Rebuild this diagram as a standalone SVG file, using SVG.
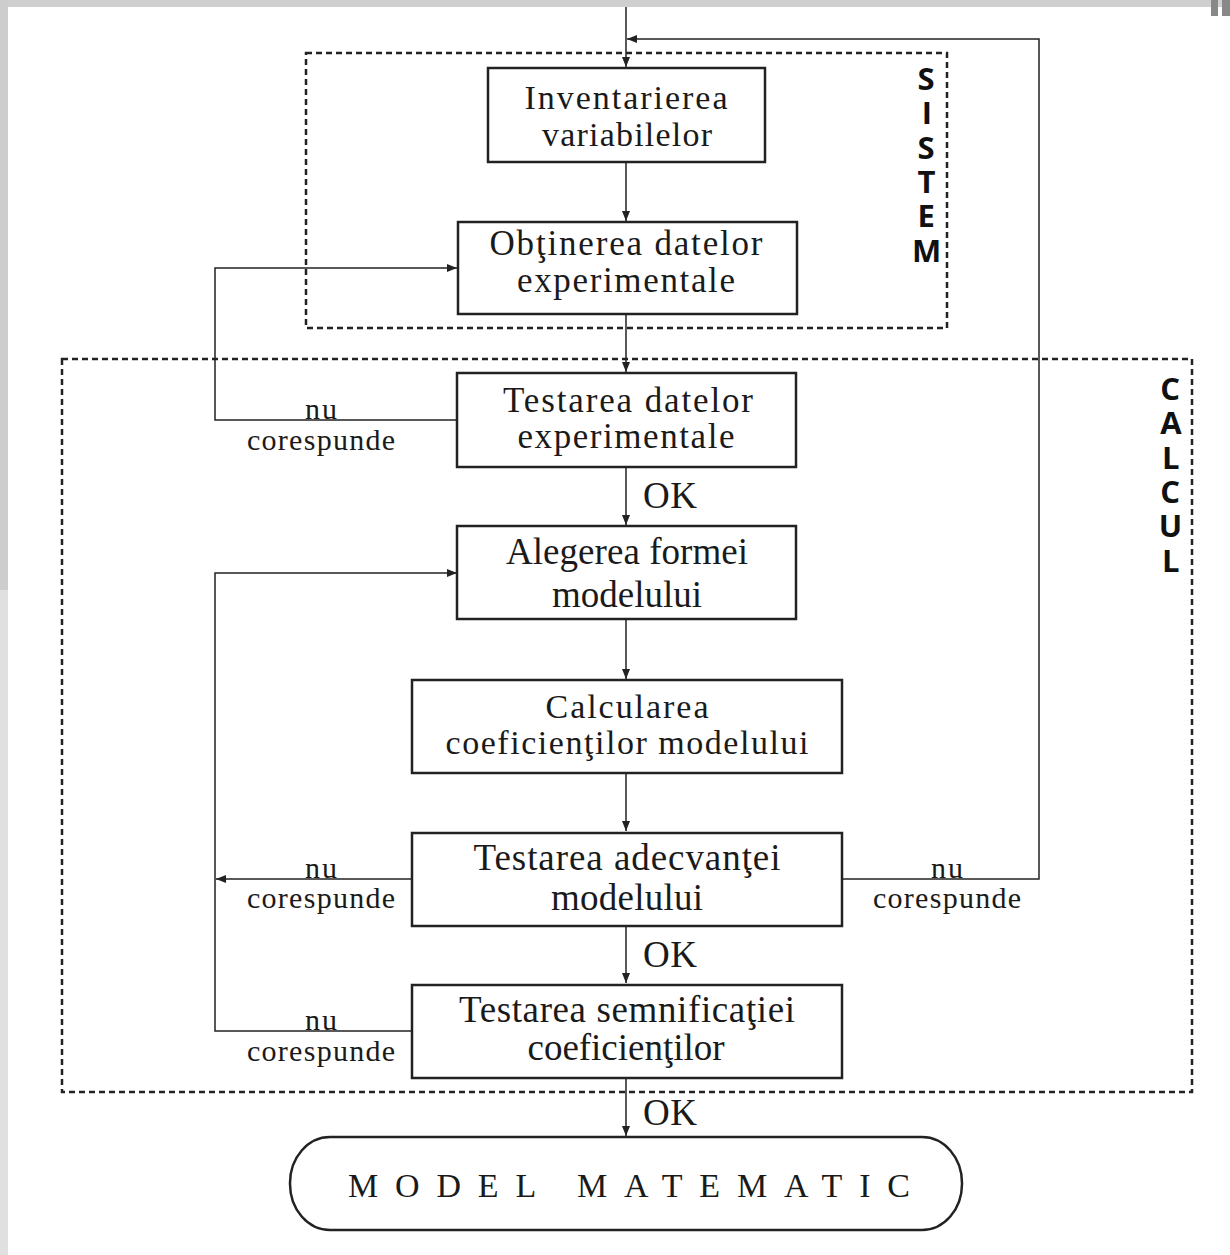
<svg xmlns="http://www.w3.org/2000/svg" width="1230" height="1255" viewBox="0 0 1230 1255">
<style>
.box{fill:#fff;stroke:#222;stroke-width:2.5}
.dash{fill:none;stroke:#222;stroke-width:2.5;stroke-dasharray:6 4}
.ln{fill:none;stroke:#222;stroke-width:1.5}
.t{font-family:"Liberation Serif","Times New Roman",serif;font-size:37px;fill:#1a1a1a;text-anchor:middle}
.s{font-family:"Liberation Serif","Times New Roman",serif;font-size:30px;fill:#1a1a1a;text-anchor:middle}
.v{font-family:"Open Sans","Liberation Sans",sans-serif;font-weight:bold;font-size:31px;fill:#111;writing-mode:vertical-rl;text-orientation:upright;letter-spacing:-7.7px}
</style>
<defs>
<marker id="ah" markerUnits="userSpaceOnUse" markerWidth="12" markerHeight="10" refX="10" refY="4" orient="auto">
<path d="M0,0 L10,4 L0,8 z" fill="#222"/>
</marker>
</defs>
<rect width="1230" height="1255" fill="#fff"/>
<g id="background">
<rect x="0" y="0" width="1230" height="7" fill="#cfcfcf"/>
<rect x="0" y="0" width="8" height="590" fill="#cdcdcd"/>
<rect x="0" y="590" width="8" height="665" fill="#e0e0e0"/>
<rect x="1211" y="0" width="7" height="16" fill="#888"/>
<rect x="1222" y="0" width="8" height="16" fill="#888"/>
</g>
<g id="group-sistem">
<rect class="dash" x="306" y="53" width="641" height="275"/>
<text class="v" x="926" y="57">SISTEM</text>
</g>
<g id="group-calcul">
<rect class="dash" x="62" y="359" width="1130" height="733"/>
<text class="v" x="1170" y="367">CALCUL</text>
</g>
<g id="connectors">
<path class="ln" d="M626,7 V67" marker-end="url(#ah)"/>
<path class="ln" d="M626,162 V221" marker-end="url(#ah)"/>
<path class="ln" d="M626,314 V372" marker-end="url(#ah)"/>
<path class="ln" d="M626,467 V525" marker-end="url(#ah)"/>
<path class="ln" d="M626,619 V679" marker-end="url(#ah)"/>
<path class="ln" d="M626,773 V831" marker-end="url(#ah)"/>
<path class="ln" d="M626,926 V983" marker-end="url(#ah)"/>
<path class="ln" d="M626,1078 V1136" marker-end="url(#ah)"/>
<path class="ln" d="M457,420 H215 V268 H457" marker-end="url(#ah)"/>
<path class="ln" d="M412,879 H216" marker-end="url(#ah)"/>
<path class="ln" d="M412,1031 H215 V573 H457" marker-end="url(#ah)"/>
<path class="ln" d="M842,879 H1039 V39 H627" marker-end="url(#ah)"/>
<text class="t" x="670" y="508" textLength="54">OK</text>
<text class="t" x="670" y="967" textLength="54">OK</text>
<text class="t" x="670" y="1125" textLength="54">OK</text>
<text class="s" x="321" y="419" textLength="32">nu</text>
<text class="s" x="321" y="450" textLength="148">corespunde</text>
<text class="s" x="321" y="878" textLength="32">nu</text>
<text class="s" x="321" y="908" textLength="148">corespunde</text>
<text class="s" x="321" y="1030" textLength="32">nu</text>
<text class="s" x="321" y="1061" textLength="148">corespunde</text>
<text class="s" x="947" y="878" textLength="32">nu</text>
<text class="s" x="947" y="908" textLength="148">corespunde</text>
</g>
<g id="n1">
<rect class="box" x="488" y="68" width="277" height="94"/>
<text class="t" x="626" y="109" textLength="203" style="font-size:34px">Inventarierea</text>
<text class="t" x="627" y="146" textLength="170" style="font-size:34px">variabilelor</text>
</g>
<g id="n2">
<rect class="box" x="458" y="222" width="339" height="92"/>
<text class="t" x="626" y="255" textLength="273" style="font-size:35px">Obţinerea datelor</text>
<text class="t" x="626" y="292" textLength="218" style="font-size:35px">experimentale</text>
</g>
<g id="n3">
<rect class="box" x="457" y="373" width="339" height="94"/>
<text class="t" x="628" y="412" textLength="250" style="font-size:35px">Testarea datelor</text>
<text class="t" x="626" y="448" textLength="217" style="font-size:35px">experimentale</text>
</g>
<g id="n4">
<rect class="box" x="457" y="526" width="339" height="93"/>
<text class="t" x="627" y="564" textLength="242">Alegerea formei</text>
<text class="t" x="627" y="607" textLength="150">modelului</text>
</g>
<g id="n5">
<rect class="box" x="412" y="680" width="430" height="93"/>
<text class="t" x="627" y="718" textLength="163" style="font-size:34px">Calcularea</text>
<text class="t" x="627" y="754" textLength="363" style="font-size:34px">coeficienţilor modelului</text>
</g>
<g id="n6">
<rect class="box" x="412" y="833" width="430" height="93"/>
<text class="t" x="627" y="870" textLength="307">Testarea adecvanţei</text>
<text class="t" x="627" y="910" textLength="152">modelului</text>
</g>
<g id="n7">
<rect class="box" x="412" y="985" width="430" height="93"/>
<text class="t" x="627" y="1022" textLength="336">Testarea semnificaţiei</text>
<text class="t" x="626" y="1060" textLength="197">coeficienţilor</text>
</g>
<g id="n8">
<rect class="box" x="290" y="1137" width="672" height="93" rx="40" ry="46"/>
<text class="t" x="348" y="1197" style="text-anchor:start;font-size:34px" textLength="562">MODEL MATEMATIC</text>
</g>
</svg>
